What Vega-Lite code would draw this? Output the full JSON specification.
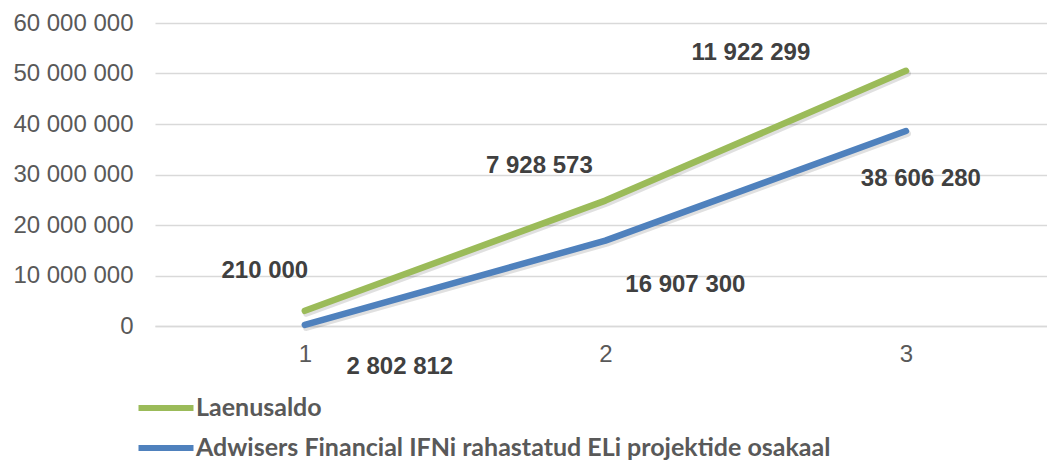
{
  "$schema": "https://vega.github.io/schema/vega-lite/v6.json",
  "autosize": {"type": "none"},
  "width": 892,
  "height": 303,
  "padding": {"left": 155, "top": 23, "right": 0, "bottom": 134},
  "background": "#ffffff",
  "config": {
    "locale": {"number": {"decimal": ",", "thousands": " ", "grouping": [3], "currency": ["", ""]}},
    "view": {"stroke": null},
    "font": "Liberation Sans"
  },
  "data": {
    "values": [
      {"x": "1", "series": "Adwisers Financial IFNi rahastatud ELi projektide osakaal", "value": 210000},
      {"x": "2", "series": "Adwisers Financial IFNi rahastatud ELi projektide osakaal", "value": 16907300},
      {"x": "3", "series": "Adwisers Financial IFNi rahastatud ELi projektide osakaal", "value": 38606280},
      {"x": "1", "series": "Laenusaldo", "value": 2802812},
      {"x": "2", "series": "Laenusaldo", "value": 7928573},
      {"x": "3", "series": "Laenusaldo", "value": 11922299}
    ]
  },
  "transform": [
    {"stack": "value", "groupby": ["x"], "sort": [{"field": "series", "order": "ascending"}], "as": ["v0", "v1"]}
  ],
  "encoding": {
    "x": {"field": "x", "type": "ordinal", "scale": {"type": "point", "padding": 0.484, "align": 0.515},
      "axis": {"labelAngle": 0, "labelFont": "Liberation Sans", "labelFontSize": 24, "labelColor": "#595959", "ticks": false, "domain": true, "domainColor": "#D9D9D9", "domainWidth": 1.5, "labelPadding": 16, "title": null, "grid": false}},
    "y": {"field": "v1", "type": "quantitative", "stack": null,
      "scale": {"domain": [0, 60000000], "nice": false},
      "axis": {"values": [0, 10000000, 20000000, 30000000, 40000000, 50000000, 60000000], "format": ",d", "labelFont": "Liberation Sans", "labelFontSize": 24, "labelColor": "#595959", "labelPadding": 22, "ticks": false, "domain": false, "grid": true, "gridColor": "#D9D9D9", "gridWidth": 1.5, "title": null}}
  },
  "layer": [
    {
      "mark": {"type": "line", "strokeWidth": 7, "strokeCap": "round", "strokeJoin": "round", "color": "#000000", "opacity": 0.12, "xOffset": 1.5, "yOffset": 2.5},
      "encoding": {"detail": {"field": "series"}}
    },
    {
      "mark": {"type": "line", "strokeWidth": 6.5, "strokeCap": "round", "strokeJoin": "round"},
      "encoding": {
        "color": {"field": "series", "type": "nominal",
          "scale": {"domain": ["Laenusaldo", "Adwisers Financial IFNi rahastatud ELi projektide osakaal"], "range": ["#9BBB59", "#4F81BD"]},
          "legend": {"orient": "none", "legendX": -6, "legendY": 368, "direction": "vertical", "title": null, "padding": 0,
            "symbolType": "M-2,0H2", "symbolSize": 756, "symbolStrokeWidth": 6, "labelFont": "Lato", "labelFontWeight": "bold", "labelFontSize": 25, "labelColor": "#595959", "labelOffset": 13, "labelLimit": 900, "rowPadding": 10}}
      }
    },
    {
      "transform": [{"filter": "datum.x == '1' && datum.series != 'Laenusaldo'"}],
      "mark": {"type": "text", "font": "Liberation Sans", "fontWeight": "bold", "fontSize": 24, "color": "#404040", "align": "center", "baseline": "middle", "dx": -40, "dy": -54},
      "encoding": {"text": {"field": "value", "type": "quantitative", "format": ",d"}}
    },
    {
      "transform": [{"filter": "datum.x == '1' && datum.series == 'Laenusaldo'"}],
      "mark": {"type": "text", "font": "Liberation Sans", "fontWeight": "bold", "fontSize": 24, "color": "#404040", "align": "center", "baseline": "middle", "dx": 95, "dy": 56},
      "encoding": {"text": {"field": "value", "type": "quantitative", "format": ",d"}}
    },
    {
      "transform": [{"filter": "datum.x == '2' && datum.series == 'Laenusaldo'"}],
      "mark": {"type": "text", "font": "Liberation Sans", "fontWeight": "bold", "fontSize": 24, "color": "#404040", "align": "center", "baseline": "middle", "dx": -66, "dy": -35},
      "encoding": {"text": {"field": "value", "type": "quantitative", "format": ",d"}}
    },
    {
      "transform": [{"filter": "datum.x == '2' && datum.series != 'Laenusaldo'"}],
      "mark": {"type": "text", "font": "Liberation Sans", "fontWeight": "bold", "fontSize": 24, "color": "#404040", "align": "center", "baseline": "middle", "dx": 80, "dy": 44},
      "encoding": {"text": {"field": "value", "type": "quantitative", "format": ",d"}}
    },
    {
      "transform": [{"filter": "datum.x == '3' && datum.series == 'Laenusaldo'"}],
      "mark": {"type": "text", "font": "Liberation Sans", "fontWeight": "bold", "fontSize": 24, "color": "#404040", "align": "center", "baseline": "middle", "dx": -155, "dy": -18},
      "encoding": {"text": {"field": "value", "type": "quantitative", "format": ",d"}}
    },
    {
      "transform": [{"filter": "datum.x == '3' && datum.series != 'Laenusaldo'"}],
      "mark": {"type": "text", "font": "Liberation Sans", "fontWeight": "bold", "fontSize": 24, "color": "#404040", "align": "center", "baseline": "middle", "dx": 15, "dy": 48},
      "encoding": {"text": {"field": "value", "type": "quantitative", "format": ",d"}}
    }
  ]
}
